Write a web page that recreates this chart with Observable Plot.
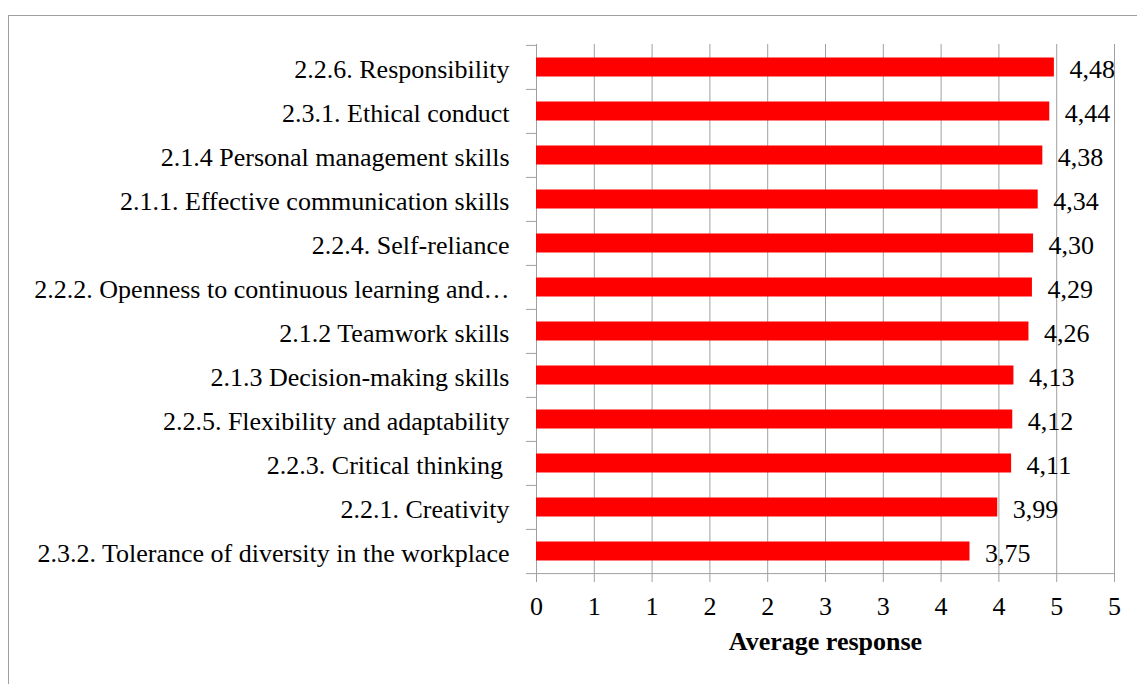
<!DOCTYPE html>
<html>
<head>
<meta charset="utf-8">
<script src="https://cdn.jsdelivr.net/npm/d3@7"></script>
<script src="https://cdn.jsdelivr.net/npm/@observablehq/plot@0.6"></script>
<style>
  html, body { margin: 0; padding: 0; background: #fff; overflow: hidden; }
  #wrap { position: relative; width: 1137px; height: 684px; }
  #border {
    position: absolute; left: 8px; top: 15px; right: -2px; bottom: -2px;
    border-left: 1px solid #a0a0a0; border-top: 1px solid #a0a0a0;
    pointer-events: none;
  }
  #chart svg { display: block; }
</style>
</head>
<body>
<div id="wrap">
  <div id="chart"></div>
  <div id="border"></div>
</div>
<script>
// Survey items, top to bottom, and their average response
const categories = [
  "2.2.6. Responsibility",
  "2.3.1. Ethical conduct",
  "2.1.4 Personal management skills",
  "2.1.1. Effective communication skills",
  "2.2.4. Self-reliance",
  "2.2.2. Openness to continuous learning and…",
  "2.1.2 Teamwork skills",
  "2.1.3 Decision-making skills",
  "2.2.5. Flexibility and adaptability",
  "2.2.3. Critical thinking\u00a0",
  "2.2.1. Creativity",
  "2.3.2. Tolerance of diversity in the workplace"
];
const values = [4.48, 4.44, 4.38, 4.34, 4.30, 4.29, 4.26, 4.13, 4.12, 4.11, 3.99, 3.75];

// Value axis: gridlines every half point, labels rounded to whole numbers
const xDomain = [0, 5];
const xTicks = [0, 0.5, 1, 1.5, 2, 2.5, 3, 3.5, 4, 4.5, 5];
const xTickLabels = ["0", "1", "1", "2", "2", "3", "3", "4", "4", "5", "5"];
const axisTitle = "Average response";

const data = categories.map((label, i) => ({label, value: values[i]}));
const fmt = (v) => v.toFixed(2).replace(".", ",");

const width = 1137, height = 684;
const marginLeft = 536, marginRight = 23, marginTop = 44, marginBottom = 110;
const bw = (height - marginTop - marginBottom) / categories.length;
const gray = "#a0a0a0";
const fs = 26;
const last = categories[categories.length - 1];

const chart = Plot.plot({
  width, height, marginLeft, marginRight, marginTop, marginBottom,
  style: {fontFamily: "'Liberation Serif', 'Times New Roman', serif", fontSize: fs + "px", color: "#000", background: "#fff"},
  x: {domain: xDomain, axis: null},
  y: {domain: categories, padding: 0, axis: null},
  marks: [
    Plot.gridX(xTicks, {stroke: gray, strokeOpacity: 1}),
    Plot.ruleY([last], {x1: xDomain[0], x2: xDomain[1], dy: bw / 2, stroke: gray}),
    Plot.barX(data, {x: "value", y: "label", fill: "#ff0000", insetTop: 12.5, insetBottom: 12.5}),
    Plot.text(data, {x: "value", y: "label", text: (d) => fmt(d.value), textAnchor: "start", dx: 15, dy: 2, fontSize: fs, fill: "#000"}),
    // category ticks sit on the band boundaries
    Plot.axisY({tickSize: 10, dy: -bw / 2, stroke: gray, strokeOpacity: 1, tickFormat: () => "", label: null}),
    Plot.axisY([last], {tickSize: 10, dy: bw / 2, stroke: gray, strokeOpacity: 1, tickFormat: () => "", label: null}),
    Plot.axisY({tickSize: 0, tickPadding: 27, fontSize: fs, dy: 2, fill: "#000", label: null}),
    Plot.axisX(xTicks, {tickSize: 8, tickPadding: 14.5, fontSize: fs, stroke: gray, strokeOpacity: 1, fill: "#000",
      tickFormat: (d) => xTickLabels[xTicks.indexOf(d)], label: null}),
    Plot.text([axisTitle], {frameAnchor: "bottom", lineAnchor: "bottom", dy: 75, fontWeight: "bold", fontSize: fs, fill: "#000"})
  ]
});
document.getElementById("chart").append(chart);
</script>
</body>
</html>
